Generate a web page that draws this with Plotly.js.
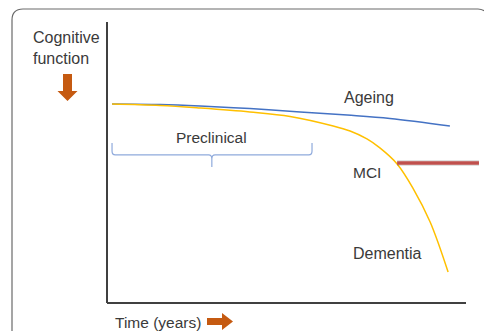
<!DOCTYPE html>
<html>
<head>
<meta charset="utf-8">
<script src="https://cdn.plot.ly/plotly-3.0.1.min.js"></script>
<style>html,body{margin:0;padding:0;background:#fff;}#chart{width:484px;height:331px;}</style>
</head>
<body>
<div id="chart"></div>
<script>
// Data (time in arbitrary units 0-100, cognitive function 0-100)
const ageingTime = [1.4, 14.8, 25.9, 39.8, 53.8, 66.9, 78.8, 95.5];
const ageingValue = [70.8, 70.6, 70.1, 69.2, 68.0, 66.9, 65.7, 63.0];
const diseaseTime = [1.4, 14.8, 25.9, 39.8, 51.0, 63.0, 67.7, 72.4, 76.0, 80.8, 85.2, 90.0, 95.0];
const diseaseValue = [70.8, 70.3, 69.4, 68.0, 66.4, 63.0, 61.2, 58.4, 55.2, 49.5, 40.9, 28.8, 11.0];
const mciTime = [80.8, 103.6];
const mciValue = [49.8, 49.8];
const labels = ["Ageing", "Preclinical", "MCI", "Dementia"];

// pixel -> paper helpers for decorations outside the plotting area
const L = 107, T = 22, W = 377, H = 281;
const px = x => (x - L) / W;
const py = y => 1 - (y - T) / H;
const pp = (x, y) => px(x) + ',' + py(y);

const traces = [
  {x: ageingTime, y: ageingValue, mode: 'lines', line: {color: '#4472C4', width: 1.5, shape: 'spline', smoothing: 1}, hoverinfo: 'skip'},
  {x: diseaseTime, y: diseaseValue, mode: 'lines', line: {color: '#FFC000', width: 1.5, shape: 'spline', smoothing: 1}, hoverinfo: 'skip'},
  {x: mciTime, y: mciValue, mode: 'lines', line: {color: 'rgba(0,0,0,0.12)', width: 6}, hoverinfo: 'skip'},
  {x: mciTime, y: mciValue, mode: 'lines', line: {color: '#C0504D', width: 3.5}, hoverinfo: 'skip'}
];

const font = {family: 'Arial, "Liberation Sans", sans-serif', color: '#3a3a3a'};
const txt = (s, size) => Object.assign({}, font, {size: size});

const layout = {
  width: 484, height: 331,
  margin: {l: L, r: 0, t: T, b: 28, pad: 0},
  paper_bgcolor: '#fff', plot_bgcolor: 'rgba(0,0,0,0)',
  showlegend: false,
  xaxis: {range: [0, 105], visible: false, fixedrange: true},
  yaxis: {range: [0, 100], visible: false, fixedrange: true},
  shapes: [
    // frame
    {type: 'path', xref: 'paper', yref: 'paper', layer: 'below',
     path: `M ${pp(12, 345)} L ${pp(12, 20)} Q ${pp(12, 9)} ${pp(23, 9)} L ${pp(478, 9)} Q ${pp(483, 9)} ${pp(487, 13)}`,
     line: {color: '#6a6a6a', width: 1.2}},
    // axes
    {type: 'line', xref: 'paper', yref: 'paper', x0: 0, x1: 0, y0: 0, y1: 1, line: {color: '#404040', width: 2}},
    {type: 'line', xref: 'paper', yref: 'paper', x0: 0, x1: px(466), y0: 0, y1: 0, line: {color: '#404040', width: 2}},
    // preclinical brace
    {type: 'path', xref: 'x', yref: 'y',
     path: 'M 1.4,56.9 L 1.4,54.1 Q 1.4,52.7 2.3,52.7 L 28.3,52.7 Q 29.2,52.7 29.2,51.3 L 29.2,48.4 M 29.2,51.3 Q 29.2,52.7 30.1,52.7 L 56.2,52.7 Q 57.1,52.7 57.1,54.1 L 57.1,56.9',
     line: {color: '#8FAADC', width: 1.2}},
    // down arrow
    {type: 'path', xref: 'paper', yref: 'paper',
     path: `M ${pp(63, 74)} L ${pp(72, 74)} L ${pp(72, 91)} L ${pp(77.5, 91)} L ${pp(67.5, 101)} L ${pp(57.5, 91)} L ${pp(63, 91)} Z`,
     fillcolor: '#C55A11', line: {width: 0}},
    // right arrow
    {type: 'path', xref: 'paper', yref: 'paper',
     path: `M ${pp(207, 318)} L ${pp(222, 318)} L ${pp(222, 313)} L ${pp(233, 321.5)} L ${pp(222, 330)} L ${pp(222, 325)} L ${pp(207, 325)} Z`,
     fillcolor: '#C55A11', line: {width: 0}}
  ],
  annotations: [
    {text: labels[0], x: 65.5, y: 73.3, xref: 'x', yref: 'y', xanchor: 'left', yanchor: 'middle', showarrow: false, font: txt(0, 16)},
    {text: labels[1], x: 29.2, y: 58.9, xref: 'x', yref: 'y', xanchor: 'center', yanchor: 'middle', showarrow: false, font: txt(0, 15.5)},
    {text: labels[2], x: 68.0, y: 46.4, xref: 'x', yref: 'y', xanchor: 'left', yanchor: 'middle', showarrow: false, font: txt(0, 15.5)},
    {text: labels[3], x: 68.0, y: 17.6, xref: 'x', yref: 'y', xanchor: 'left', yanchor: 'middle', showarrow: false, font: txt(0, 16)},
    {text: 'Cognitive<br>function', x: px(31), y: py(47.5), xref: 'paper', yref: 'paper', xanchor: 'left', yanchor: 'middle', align: 'left', showarrow: false, font: txt(0, 16)},
    {text: 'Time (years)', x: px(113), y: py(322.5), xref: 'paper', yref: 'paper', xanchor: 'left', yanchor: 'middle', showarrow: false, font: txt(0, 15.5)}
  ]
};

Plotly.newPlot('chart', traces, layout, {staticPlot: true, displayModeBar: false});
</script>
</body>
</html>
